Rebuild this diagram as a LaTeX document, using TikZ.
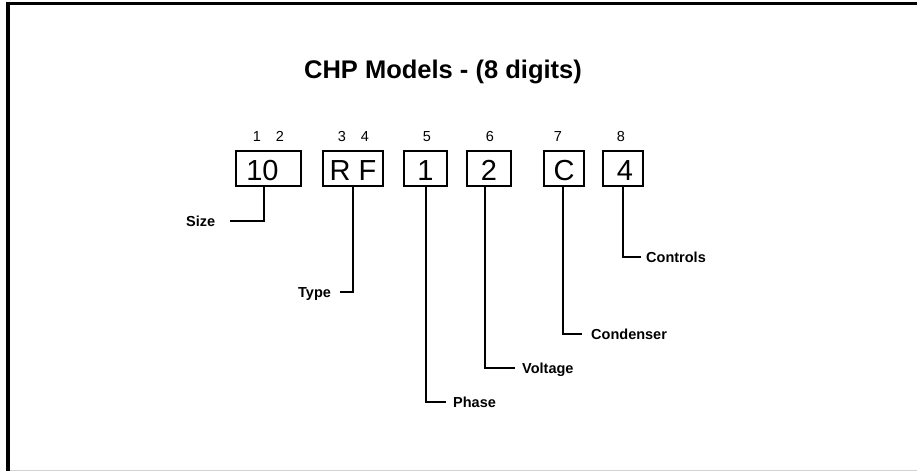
\documentclass[tikz,border=0pt]{standalone}
\usepackage{fontspec}
\setmainfont{Liberation Sans}
\begin{document}
\begin{tikzpicture}[x=1pt,y=-1pt,
  box/.style={draw, line width=1.4pt, minimum height=35pt, inner sep=0pt, text height=24pt, text depth=0pt, font=\fontsize{29}{31}\selectfont},
  num/.style={font=\fontsize{14.5}{16}\selectfont, inner sep=0pt, text height=10.4pt, text depth=0pt},
  lab/.style={font=\fontsize{14.5}{16}\selectfont\bfseries, inner sep=0pt, text height=10.4pt, text depth=0pt, anchor=west},
  conn/.style={line width=1.2pt},
  frame/.style={line width=#1, black}]
\useasboundingbox (0,0) rectangle (917,471);
% frame
\draw[frame=4pt] (8,2) -- (8,471);
\draw[frame=3pt] (6,3.5) -- (917,3.5);
\draw[gray!35, line width=1pt] (10,470) -- (917,470);
% title
\node[font=\fontsize{25.5}{28}\selectfont\bfseries, inner sep=0pt, text height=18.3pt, text depth=0pt] (title) at (443,69) {CHP Models - (8 digits)};
% boxes
\node[box, minimum width=65pt] (b10) at (268.5,168.5) {10\rule{12pt}{0pt}};
\node[box, minimum width=60pt] (bRF) at (353,168.5) {R F};
\node[box, minimum width=43pt] (b1) at (425.5,168.5) {1};
\node[box, minimum width=44pt] (b2) at (489,168.5) {2};
\node[box, minimum width=40pt] (bC) at (564,168.5) {C};
\node[box, minimum width=40pt] (b4) at (623,168.5) {\rule{4pt}{0pt}4};
% digit positions
\node[num] (n1) at (257,136) {1};
\node[num] (n2) at (280,136) {2};
\node[num] (n3) at (342,136) {3};
\node[num] (n4) at (365,136) {4};
\node[num] (n5) at (427,136) {5};
\node[num] (n6) at (490,136) {6};
\node[num] (n7) at (558,136) {7};
\node[num] (n8) at (621,136) {8};
% labels
\node[lab] (lsize) at (186,221) {Size};
\node[lab] (ltype) at (298,292) {Type};
\node[lab] (lphase) at (453,402) {Phase};
\node[lab] (lvolt) at (522,368) {Voltage};
\node[lab] (lcond) at (591,334) {Condenser};
\node[lab] (lctrl) at (646,257) {Controls};
% connectors
\draw[conn] ([xshift=-4.5pt]b10.south) |- ([xshift=15pt]lsize.east);
\draw[conn] (bRF.south) |- ([xshift=9pt]ltype.east);
\draw[conn] ([xshift=0.5pt]b1.south) |- ([xshift=-7pt]lphase.west);
\draw[conn] ([xshift=-4pt]b2.south) |- ([xshift=-7pt]lvolt.west);
\draw[conn] ([xshift=-1pt]bC.south) |- ([xshift=-9pt]lcond.west);
\draw[conn] (b4.south) |- ([xshift=-5pt]lctrl.west);
\end{tikzpicture}
\end{document}
